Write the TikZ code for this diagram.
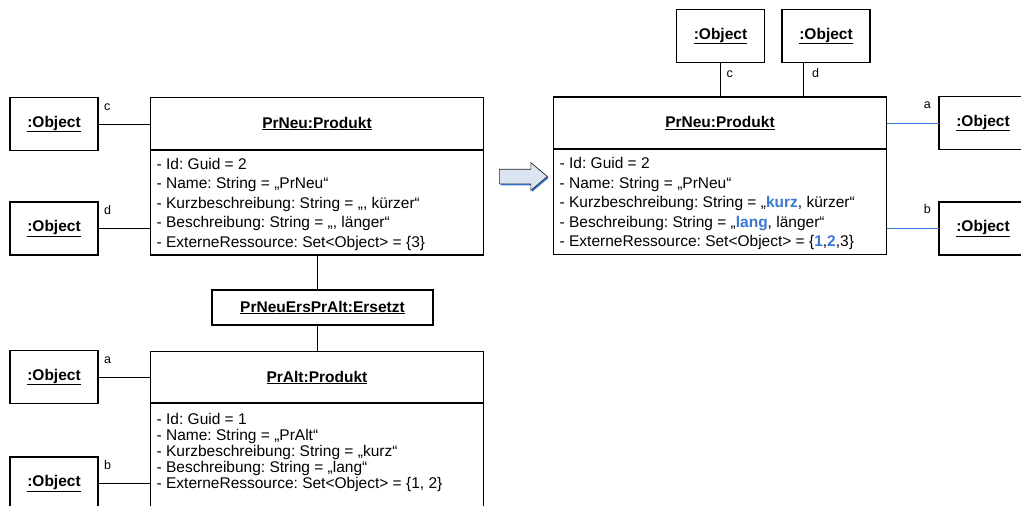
\documentclass[tikz,border=0pt]{standalone}
\usepackage{fontspec}
\setmainfont{Liberation Sans}
\usepackage{xcolor}
\usetikzlibrary{shapes.arrows, shadows}
\definecolor{myblue}{RGB}{58,118,212}
\definecolor{arrfill}{RGB}{219,229,241}
\newcommand{\objname}{\underline{\textbf{:Object}}}
\newcommand{\nb}[1]{\textcolor{myblue}{\textbf{#1}}}
\frenchspacing

\begin{document}
\begin{tikzpicture}[x=1pt, y=-1pt,
  obj/.style={draw, line width=1.5pt, outer sep=0pt, minimum width=88pt, minimum height=53pt, font=\fontsize{15.5}{18}\selectfont},
  head/.style={draw, line width=1.5pt, outer sep=0pt, minimum width=333pt, minimum height=52pt, font=\fontsize{15.5}{18}\selectfont\bfseries},
  body/.style={draw, line width=1.5pt, outer sep=0pt, minimum width=333pt, minimum height=105pt},
  attr/.style={anchor=north west, align=left, inner sep=0pt, font=\fontsize{15.5}{19.5}\selectfont},
  lbl/.style={anchor=base west, inner sep=0pt, font=\fontsize{12.5}{14}\selectfont},
  link/.style={line width=0.9pt},
  newlink/.style={link, draw=myblue}]
\useasboundingbox (0,0) rectangle (1021,506);

\node[obj] (oc) at (54,124) {\objname};
\node[obj] (od) at (54,228.5) {\objname};
\node[obj] (oa) at (54,377) {\objname};
\node[obj] (ob) at (54,483.5) {\objname};

\node[head] (neuH) at (317,123.5) {\underline{PrNeu:Produkt}};
\node[body] (neuB) at (317,202.5) {};
\node[attr] (neuT) at ([shift={(6,8)}]neuB.north west) {- Id: Guid = 2\\
- Name: String = „PrNeu“\\
- Kurzbeschreibung: String = „, kürzer“\\
- Beschreibung: String = „, länger“\\
- ExterneRessource: Set<Object> = \{3\}};

\node[head, minimum width=221pt, minimum height=35pt] (ers) at (322.5,307.5) {\underline{PrNeuErsPrAlt:Ersetzt}};

\node[head] (altH) at (317,377.5) {\underline{PrAlt:Produkt}};
\node[body] (altB) at (317,455.5) {};
\node[attr, font=\fontsize{15.5}{16}\selectfont] (altT) at ([shift={(6,10)}]altB.north west) {- Id: Guid = 1\\
- Name: String = „PrAlt“\\
- Kurzbeschreibung: String = „kurz“\\
- Beschreibung: String = „lang“\\
- ExterneRessource: Set<Object> = \{1, 2\}};

\node[lbl] (lc) at ([shift={(6,-14)}]oc.east) {c};
\node[lbl] (ld) at ([shift={(6,-14)}]od.east) {d};
\node[lbl] (la) at ([shift={(6,-14)}]oa.east) {a};
\node[lbl] (lb) at ([shift={(6,-14)}]ob.east) {b};

\draw[link] (oc.east) -- (oc.east -| neuH.west);
\draw[link] (od.east) -- (od.east -| neuB.west);
\draw[link] (oa.east) -- (oa.east -| altH.west);
\draw[link] (ob.east) -- (ob.east -| altB.west);
\draw[link] (neuB.south) -- (neuB.south |- ers.north);
\draw[link] (ers.south -| altH.north) -- (altH.north);

\node[single arrow, draw=black!85, fill=arrfill, line width=0.7pt, inner sep=7pt, single arrow head extend=6.5pt, single arrow tip angle=80, minimum height=48pt, drop shadow={shadow xshift=1.2pt, shadow yshift=-1.5pt, fill=myblue, opacity=1}] (arr) at (519,176.5) {};

\node[obj] (oc2) at (720.5,36) {\objname};
\node[obj] (od2) at (826,36) {\objname};
\node[obj] (oa2) at (983,123) {\objname};
\node[obj] (ob2) at (983,228.5) {\objname};

\node[head] (neuRH) at (720,123) {\underline{PrNeu:Produkt}};
\node[body] (neuRB) at (720,202) {};
\node[attr] (neuRT) at ([shift={(6,8)}]neuRB.north west) {- Id: Guid = 2\\
- Name: String = „PrNeu“\\
- Kurzbeschreibung: String = „\nb{kurz}, kürzer“\\
- Beschreibung: String = „\nb{lang}, länger“\\
- ExterneRessource: Set<Object> = \{\nb{1},\nb{2},3\}};

\coordinate (dTop) at ([xshift=21pt]od2.south west);
\node[lbl] (tc) at ([shift={(6,15)}]oc2.south) {c};
\node[lbl] (td) at ([shift={(9,15)}]dTop) {d};
\node[lbl, anchor=base east] (ra) at ([shift={(-8,-15)}]oa2.west) {a};
\node[lbl, anchor=base east] (rb) at ([shift={(-8,-15)}]ob2.west) {b};

\draw[link] (oc2.south) -- (oc2.south |- neuRH.north);
\draw[link] (dTop) -- (dTop |- neuRH.north);
\draw[newlink] (neuRH.east) -- (neuRH.east -| oa2.west);
\draw[newlink] (ob2.west -| neuRB.east) -- (ob2.west);
\end{tikzpicture}
\end{document}
